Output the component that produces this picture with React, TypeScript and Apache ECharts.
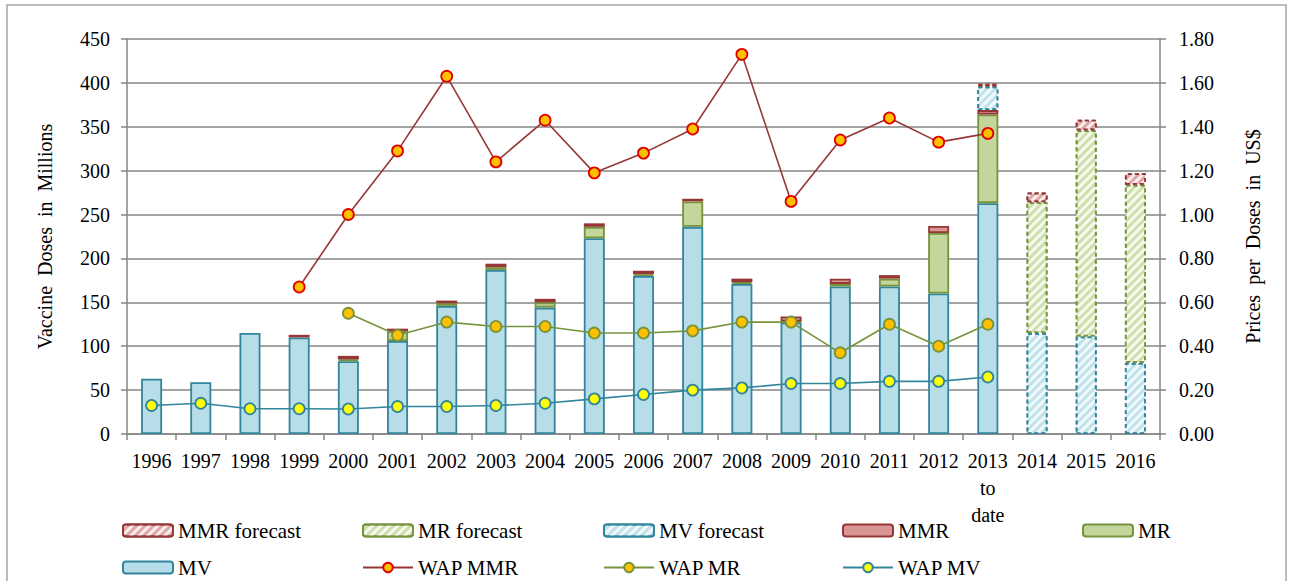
import React, { useEffect, useRef } from "react";
import * as echarts from "echarts";

const categories = ["1996","1997","1998","1999","2000","2001","2002","2003","2004","2005","2006","2007","2008","2009","2010","2011","2012","2013\nto\ndate","2014","2015","2016"];
const mv =   [63, 59, 115, 110, 83, 106, 146, 187, 144, 223, 180, 236, 171, 127, 168, 168, 160, 263, null, null, null];
const mr =   [null, null, null, null, 2, 11, 3, 3, 6, 13, 2, 29, 2, 1, 3, 9, 69, 101, null, null, null];
const mmr =  [null, null, null, 3, 4, 3, 3, 4, 4, 4, 4, 3, 4, 6, 6, 4, 8, 5, null, null, null];
const mvForecast =  [null, null, null, null, null, null, null, null, null, null, null, null, null, null, null, null, null, 27, 115, 111, 81];
const mrForecast =  [null, null, null, null, null, null, null, null, null, null, null, null, null, null, null, null, null, null, 149, 235, 203];
const mmrForecast = [null, null, null, null, null, null, null, null, null, null, null, null, null, null, null, null, null, 3, 11, 12, 13];
const wapMMR = [null, null, null, 0.67, 1.00, 1.29, 1.63, 1.24, 1.43, 1.19, 1.28, 1.39, 1.73, 1.06, 1.34, 1.44, 1.33, 1.37, null, null, null];
const wapMR =  [null, null, null, null, 0.55, 0.45, 0.51, 0.49, 0.49, 0.46, 0.46, 0.47, 0.51, 0.51, 0.37, 0.50, 0.40, 0.50, null, null, null];
const wapMV =  [0.13, 0.14, 0.115, 0.115, 0.114, 0.125, 0.125, 0.13, 0.14, 0.16, 0.18, 0.20, 0.21, 0.23, 0.23, 0.24, 0.24, 0.26, null, null, null];
const leftTicks = { min: 0, max: 450, interval: 50 };
const rightTicks = { min: 0, max: 1.8, interval: 0.2 };

const FONT = "'Liberation Serif', 'Times New Roman', serif";
const GRAY = "#868686";

const hatch = {
  symbol: "rect",
  symbolSize: 1,
  color: "rgba(255,255,255,0.8)",
  dashArrayX: [1, 0],
  dashArrayY: [3, 3],
  rotation: -Math.PI / 4,
};

export default function App() {
  const ref = useRef<HTMLDivElement>(null);
  useEffect(() => {
    if (!ref.current) return;
    const chart = echarts.init(ref.current, undefined, { renderer: "svg" });
    const barBase = { type: "bar", stack: "total", barWidth: 21, yAxisIndex: 0 };
    const solid = (fill: string, border: string) => ({ color: fill, borderColor: border, borderWidth: 1.8 });
    const fc = (fill: string, border: string) => ({
      color: fill, borderColor: border, borderWidth: 1.8, borderType: [4, 3], decal: hatch,
    });
    const lineStyle = (c: string) => ({ color: c, width: 1.6 });
    const legendPos = [
      { name: "MMR forecast", left: 122, top: 520 },
      { name: "MR forecast", left: 362, top: 520 },
      { name: "MV forecast", left: 603, top: 520 },
      { name: "MMR", left: 842, top: 520 },
      { name: "MR", left: 1082, top: 520 },
      { name: "MV", left: 122, top: 557 },
      { name: "WAP MMR", left: 362, top: 557 },
      { name: "WAP MR", left: 603, top: 557 },
      { name: "WAP MV", left: 842, top: 557 },
    ];
    const option: any = {
      animation: false,
      textStyle: { fontFamily: FONT },
      graphic: [
        { type: "rect", shape: { x: 7, y: 5, width: 1279, height: 600 }, style: { fill: "none", stroke: "#a6a6a6", lineWidth: 1.5 }, silent: true },
      ],
      grid: { left: 127, right: 134, top: 39, bottom: 147 },
      legend: legendPos.map((l) => ({
        data: [l.name],
        left: l.left,
        top: l.top,
        itemWidth: 50,
        itemHeight: 12,
        itemGap: 0,
        padding: 0,
        textStyle: { fontFamily: FONT, fontSize: 21, color: "#000", padding: [0, 0, 0, 0] },
      })),
      xAxis: {
        type: "category",
        data: categories,
        axisLine: { lineStyle: { color: GRAY, width: 1.5 } },
        axisTick: { show: true, length: 6, lineStyle: { color: GRAY, width: 1.5 } },
        axisLabel: { color: "#000", fontSize: 20, fontFamily: FONT, margin: 13, lineHeight: 27, interval: 0 },
      },
      yAxis: [
        {
          type: "value",
          ...leftTicks,
          name: "Vaccine  Doses  in  Millions",
          nameLocation: "middle",
          nameGap: 72,
          nameTextStyle: { color: "#000", fontSize: 20, fontFamily: FONT },
          axisLine: { show: true, lineStyle: { color: GRAY, width: 1.5 } },
          axisTick: { show: true, length: 6, lineStyle: { color: GRAY, width: 1.5 } },
          axisLabel: { color: "#000", fontSize: 20, fontFamily: FONT, margin: 17 },
          splitLine: { lineStyle: { color: GRAY, width: 1.5 } },
        },
        {
          type: "value",
          ...rightTicks,
          position: "right",
          name: "Prices  per  Doses  in  US$",
          nameLocation: "middle",
          nameGap: 83,
          nameTextStyle: { color: "#000", fontSize: 20, fontFamily: FONT },
          axisLine: { show: true, lineStyle: { color: GRAY, width: 1.5 } },
          axisTick: { show: true, length: 6, lineStyle: { color: GRAY, width: 1.5 } },
          axisLabel: { color: "#000", fontSize: 20, fontFamily: FONT, margin: 19, formatter: (v: number) => v.toFixed(2) },
          splitLine: { show: false },
        },
      ],
      series: [
        { ...barBase, name: "MV", data: mv, itemStyle: solid("#b7dde8", "#31859c") },
        { ...barBase, name: "MR", data: mr, itemStyle: solid("#c3d69b", "#77933c") },
        { ...barBase, name: "MMR", data: mmr, itemStyle: solid("#d99694", "#953735") },
        { ...barBase, name: "MV forecast", data: mvForecast, itemStyle: fc("#c0e2ec", "#31859c") },
        { ...barBase, name: "MR forecast", data: mrForecast, itemStyle: fc("#cfdfac", "#77933c") },
        { ...barBase, name: "MMR forecast", data: mmrForecast, itemStyle: fc("#e0a8a6", "#953735") },
        {
          type: "line", name: "WAP MMR", yAxisIndex: 1, data: wapMMR, symbol: "circle", symbolSize: 11,
          lineStyle: lineStyle("#953735"), itemStyle: { color: "#ffc000", borderColor: "#e00000", borderWidth: 1.8 },
        },
        {
          type: "line", name: "WAP MR", yAxisIndex: 1, data: wapMR, symbol: "circle", symbolSize: 11,
          lineStyle: lineStyle("#77933c"), itemStyle: { color: "#ffc000", borderColor: "#77933c", borderWidth: 1.8 },
        },
        {
          type: "line", name: "WAP MV", yAxisIndex: 1, data: wapMV, symbol: "circle", symbolSize: 11,
          lineStyle: lineStyle("#31859c"), itemStyle: { color: "#ffff00", borderColor: "#31859c", borderWidth: 1.8 },
        },
      ],
    };
    chart.setOption(option);
    return () => chart.dispose();
  }, []);
  return <div ref={ref} style={{ position: "absolute", left: 0, top: 0, width: 1294, height: 581 }} />;
}
